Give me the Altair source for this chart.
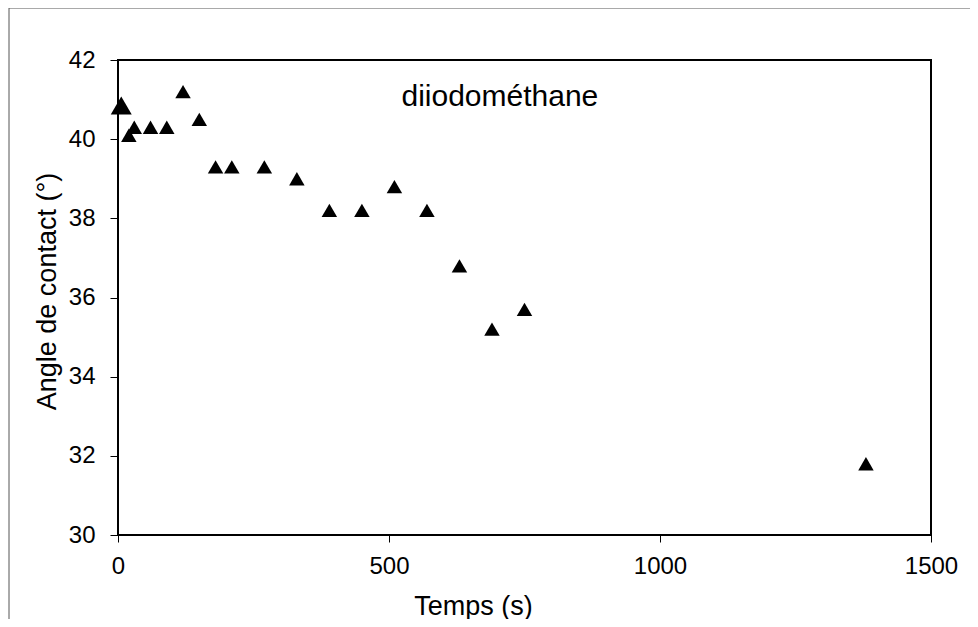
import altair as alt
import pandas as pd

# Data
temps = [20, 30, 60, 90, 120, 150, 180, 210, 270, 330, 390, 450, 510, 570, 630, 690, 750, 1380]
angle = [40.1, 40.3, 40.3, 40.3, 41.2, 40.5, 39.3, 39.3, 39.3, 39.0, 38.2, 38.2, 38.8, 38.2, 36.8, 35.2, 35.7, 31.8]
# first measurement (drawn with a larger marker in the reference)
temps0 = [6]
angle0 = [40.85]

x_ticks = [0, 500, 1000, 1500]
y_ticks = [30, 32, 34, 36, 38, 40, 42]

label_text = ["diiodométhane"]
label_t = [523]
label_y = [40.84]

FONT = "Liberation Sans"

df = pd.DataFrame({"t": temps, "angle": angle})
df0 = pd.DataFrame({"t": temps0, "angle": angle0})
dlab = pd.DataFrame({"t": label_t, "angle": label_y, "txt": label_text})

xscale = alt.Scale(domain=[0, 1500], nice=False, zero=False)
yscale = alt.Scale(domain=[30, 42], nice=False, zero=False)

xaxis = alt.Axis(
    title="Temps (s)", values=x_ticks, format="d", grid=False, domain=False,
    labelFlush=False, labelOverlap=False,
    tickColor="black", tickSize=7, tickWidth=1, labelPadding=12,
    labelFontSize=24, labelFont=FONT, labelColor="black",
    titleFont=FONT, titleFontSize=27, titleFontWeight="normal", titleColor="black",
    titleX=355, titleY=79, titleAlign="center", titleBaseline="alphabetic",
)
yaxis = alt.Axis(
    title="Angle de contact (°)", values=y_ticks, format="d", grid=False, domain=False,
    labelFlush=False, labelOverlap=False,
    tickColor="black", tickSize=8, tickWidth=1, labelPadding=15,
    labelFontSize=24, labelFont=FONT, labelColor="black",
    titleFont=FONT, titleFontSize=27, titleFontWeight="normal", titleColor="black",
    titleX=-63, titleY=231, titleAlign="center", titleBaseline="alphabetic", titleAngle=270,
)

points = alt.Chart(df).mark_point(
    shape="triangle-up", filled=True, color="black", opacity=1, size=240
).encode(
    x=alt.X("t:Q", scale=xscale, axis=xaxis),
    y=alt.Y("angle:Q", scale=yscale, axis=yaxis),
)

first = alt.Chart(df0).mark_point(
    shape="triangle-up", filled=True, color="black", opacity=1, size=440
).encode(
    x=alt.X("t:Q", scale=xscale),
    y=alt.Y("angle:Q", scale=yscale),
)

label = alt.Chart(dlab).mark_text(
    align="left", baseline="alphabetic", font=FONT, fontSize=30, color="black"
).encode(
    x=alt.X("t:Q", scale=xscale),
    y=alt.Y("angle:Q", scale=yscale),
    text="txt:N",
)

frame_data = alt.Data(values=[{"k": 1}])
frame_left = alt.Chart(frame_data).mark_rule(color="#555555", strokeWidth=1).encode(
    x=alt.value(-109), y=alt.value(-52), y2=alt.value(620)
)
frame_top = alt.Chart(frame_data).mark_rule(color="#555555", strokeWidth=1).encode(
    x=alt.value(-109), x2=alt.value(900), y=alt.value(-52)
)

chart = alt.layer(frame_left, frame_top, points, first, label).properties(
    width=813, height=475,
    autosize=alt.AutoSizeParams(type="none"),
    padding={"left": 110, "top": 52, "right": 39, "bottom": 84},
    background="white",
).configure_view(
    stroke="black", strokeWidth=2
)

chart.save("out.html", embed_options={"renderer": "svg", "actions": False})
